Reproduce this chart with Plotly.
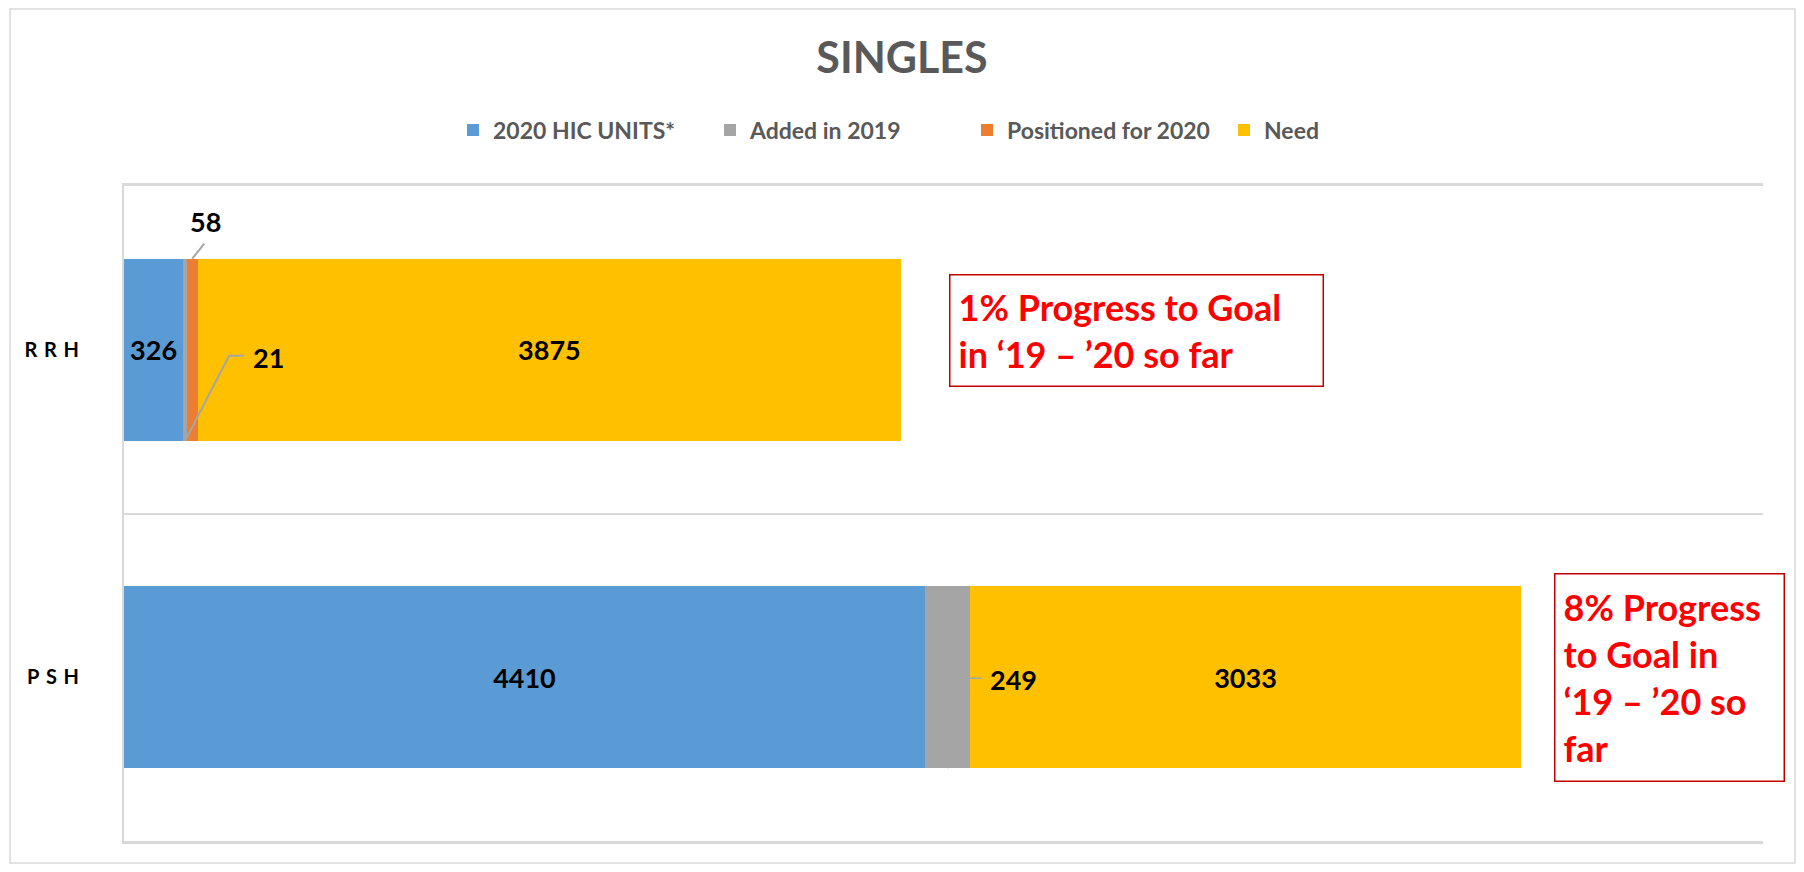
import plotly.graph_objects as go

categories = ["PSH", "RRH"]
tick_labels = ["P\u2004S\u2004H", "R\u2004R\u2004H"]
series_names = ["2020 HIC UNITS*", "Added in 2019", "Positioned for 2020", "Need"]
hic_units = [4410, 326]
added_2019 = [249, 21]
positioned_2020 = [0, 58]
need = [3033, 3875]
progress_notes = ["8% Progress<br>to Goal in<br>\u201819 \u2013 \u201920 so<br>far",
                  "1% Progress to Goal<br>in \u201819 \u2013 \u201920 so far"]

colors = ["#5B9BD5", "#A5A5A5", "#ED7D31", "#FFC000"]
FONT = "Lato"
LABEL_FONT = dict(family=FONT, size=27, color="#000000")

# figure geometry (page body has an 8px margin)
W, H = 1788, 856
ML, MR, MT, MB = 116, 33, 178, 23
PW, PH = W - ML - MR, H - MT - MB

fig = go.Figure()
series = [hic_units, added_2019, positioned_2020, need]
inside_label = [True, False, False, True]
for name, vals, col, show in zip(series_names, series, colors, inside_label):
    fig.add_trace(go.Bar(
        y=categories, x=vals, name=name, orientation="h",
        marker=dict(color=col, line=dict(width=0)),
        text=[f"<b>{v}</b>" for v in vals] if show else None,
        textposition="inside" if show else "none",
        insidetextanchor="middle",
        textfont=LABEL_FONT,
        hoverinfo="x+name",
    ))

# outside data labels with leader lines for thin segments
half = 0.278  # half bar thickness in category units
LEADER = "#A6A6A6"
# RRH: Added in 2019 (21)
i = 1
x_add = hic_units[i] + added_2019[i] / 2
fig.add_shape(type="path", xref="x", yref="y", xsizemode="pixel", ysizemode="pixel",
              xanchor=x_add, yanchor=i - half,
              path="M0,0 L44,85 L59,85", line=dict(color=LEADER, width=2))
fig.add_annotation(x=x_add, y=i - half, xref="x", yref="y", text=f"<b>{added_2019[i]}</b>",
                   showarrow=False, xanchor="left", xshift=66, yshift=83, font=LABEL_FONT)
# RRH: Positioned for 2020 (58)
x_pos = hic_units[i] + added_2019[i] + positioned_2020[i] / 2
fig.add_shape(type="path", xref="x", yref="y", xsizemode="pixel", ysizemode="pixel",
              xanchor=x_pos, yanchor=i + half,
              path="M0,0 L12,15", line=dict(color=LEADER, width=2))
fig.add_annotation(x=x_pos, y=i + half, xref="x", yref="y", text=f"<b>{positioned_2020[i]}</b>",
                   showarrow=False, xanchor="center", xshift=13, yshift=37, font=LABEL_FONT)
# PSH: Added in 2019 (249)
i = 0
x_add0 = hic_units[i] + added_2019[i] / 2
fig.add_shape(type="path", xref="x", yref="y", xsizemode="pixel", ysizemode="pixel",
              xanchor=x_add0, yanchor=i - half,
              path="M0,0 L22,90 L34,90", line=dict(color=LEADER, width=1.5))
fig.add_annotation(x=x_add0, y=i - half, xref="x", yref="y", text=f"<b>{added_2019[i]}</b>",
                   showarrow=False, xanchor="left", xshift=40, yshift=89, font=LABEL_FONT)

# progress notes (boxes)
NOTE_FONT = dict(family=FONT, size=36, color="#FF0000")
fig.add_annotation(x=(949 - 8 - ML) / PW, y=1, xref="paper", yref="y",
                   text=f"<b>{progress_notes[1]}</b>", showarrow=False,
                   xanchor="left", yanchor="middle", align="left", yshift=19,
                   font=NOTE_FONT, bordercolor="#C00000", borderwidth=1.5, borderpad=8,
                   bgcolor="white", width=356, height=94)
fig.add_annotation(x=(1554 - 8 - ML) / PW, y=0, xref="paper", yref="y",
                   text=f"<b>{progress_notes[0]}</b>", showarrow=False,
                   xanchor="left", yanchor="middle", align="left",
                   font=NOTE_FONT, bordercolor="#C00000", borderwidth=1.5, borderpad=8,
                   bgcolor="white", width=212, height=190)

# outer chart border
fig.add_shape(type="rect", xref="paper", yref="paper",
              x0=(2 - ML) / PW, x1=(1787 - ML) / PW,
              y0=(PH + MT - (H - 1)) / PH, y1=(PH + MT - 1) / PH,
              line=dict(color="#D9D9D9", width=1.5), layer="below")

fig.update_layout(
    width=W, height=H,
    margin=dict(l=ML, r=MR, t=MT, b=MB),
    paper_bgcolor="white", plot_bgcolor="white",
    barmode="stack", bargap=0.444,
    title=dict(text="<b>SINGLES</b>", x=0.5, xanchor="center",
               y=1 - 50 / H, yanchor="middle", yref="container",
               font=dict(family=FONT, size=43, color="#595959")),
    legend=dict(orientation="h", x=(453 - 8 - ML) / PW, xanchor="left", y=1 + 56 / PH, yanchor="middle",
                font=dict(family=FONT, size=23, color="#595959", weight="bold"), itemwidth=30,
                entrywidth=212, entrywidthmode="pixels",
                traceorder="normal"),
    xaxis=dict(range=[0, 9025], showticklabels=False, showgrid=False, zeroline=False,
               showline=True, linecolor="#D9D9D9", linewidth=3, mirror=True, ticks=""),
    yaxis=dict(type="category", categoryorder="array", categoryarray=categories,
               tickvals=categories, ticktext=[f"<b>{t}</b>" for t in tick_labels],
               range=[-0.5, 1.5], tickson="boundaries", showgrid=True,
               gridcolor="#D9D9D9", gridwidth=2, showline=True, linecolor="#D9D9D9",
               linewidth=2, ticks="", ticklabelstandoff=39,
               tickfont=dict(family=FONT, size=20, color="#000000")),
    showlegend=True,
)

fig.write_html("out.html")
